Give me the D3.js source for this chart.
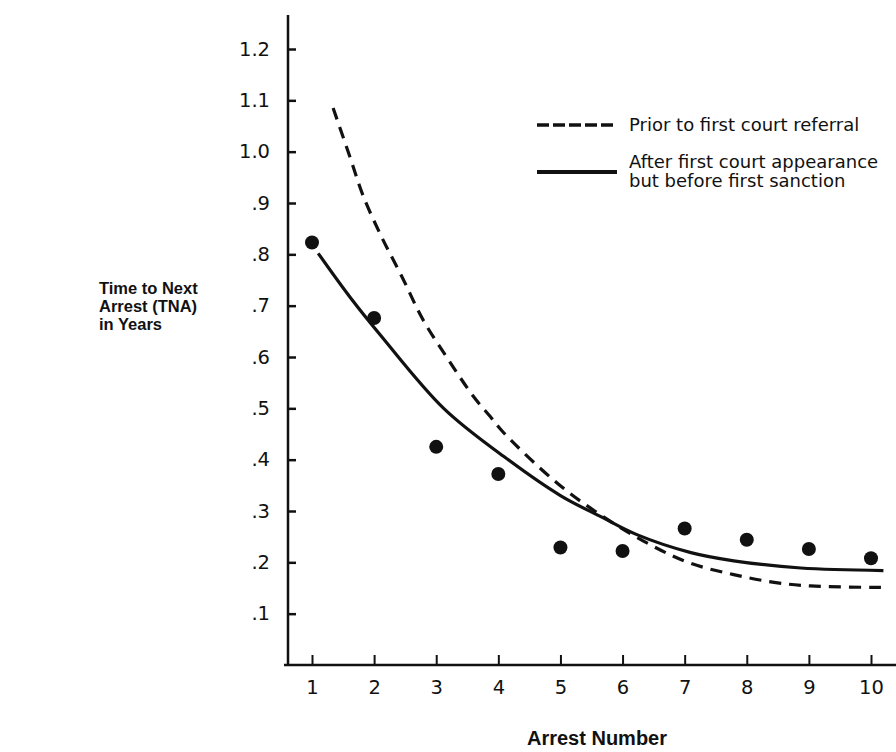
<!DOCTYPE html>
<html>
<head>
<meta charset="utf-8">
<script src="https://cdn.jsdelivr.net/npm/d3@7"></script>
<style>
  body { margin: 0; background: #fff; }
  svg text { fill: #111; }
</style>
</head>
<body>
<div id="chart"></div>
<script>
// arrest number and mean time to next arrest (years)
const arrestNumbers = [1, 2, 3, 4, 5, 6, 7, 8, 9, 10];
const tnaObserved = [0.823, 0.676, 0.425, 0.372, 0.229, 0.222, 0.266, 0.244, 0.226, 0.208];

// fitted curves, sampled along their length
const priorX = [1.34, 1.61, 1.83, 2.12, 2.45, 2.79, 3.2, 3.6, 3.87, 4.09, 4.95, 5.65, 6.45, 7.1, 7.79, 8.44, 9.03, 10.2];
const priorY = [1.085, 0.99, 0.912, 0.834, 0.756, 0.672, 0.594, 0.523, 0.484, 0.452, 0.354, 0.292, 0.234, 0.198, 0.176, 0.161, 0.154, 0.151];
const afterX = [1.1, 1.61, 2.1, 3.12, 4.09, 5.0, 5.65, 6.23, 7.1, 7.79, 8.87, 10.2];
const afterY = [0.802, 0.717, 0.643, 0.50, 0.406, 0.33, 0.289, 0.254, 0.219, 0.203, 0.189, 0.184];

const yTicks = [0.1, 0.2, 0.3, 0.4, 0.5, 0.6, 0.7, 0.8, 0.9, 1.0, 1.1, 1.2];
const legendLabels = [["Prior to first court referral"], ["After first court appearance", "but before first sanction"]];
const yTitle = ["Time to Next", "Arrest (TNA)", "in Years"];
const xTitle = "Arrest Number";

const width = 896, height = 752;
const svg = d3.select("#chart").append("svg")
  .attr("width", width).attr("height", height);

const x = d3.scaleLinear().domain([1, 10]).range([312, 871]);
const y = d3.scaleLinear().domain([0, 1.2]).range([665, 49]);

// Y axis
const yAxis = svg.append("g")
  .attr("transform", "translate(288,0)")
  .call(d3.axisLeft(y).tickValues(yTicks).tickSize(-8).tickSizeOuter(0).tickPadding(18)
    .tickFormat(d => d >= 1 ? d3.format(".1f")(d) : d3.format(".1f")(d).slice(1)));
yAxis.select(".domain").remove();
yAxis.selectAll(".tick line").attr("stroke", "#111").attr("stroke-width", 2.5);
yAxis.selectAll(".tick text").style("font-family", "DejaVu Sans, sans-serif").style("font-size", "19.5px");
svg.append("line").attr("x1", 288).attr("x2", 288).attr("y1", 15).attr("y2", y(0))
  .attr("stroke", "#111").attr("stroke-width", 2.5);

// X axis
const xAxis = svg.append("g")
  .attr("transform", "translate(0," + y(0) + ")")
  .call(d3.axisBottom(x).tickValues(arrestNumbers).tickSize(-10).tickSizeOuter(0).tickPadding(15)
    .tickFormat(d3.format("d")));
xAxis.select(".domain").remove();
xAxis.selectAll(".tick line").attr("stroke", "#111").attr("stroke-width", 2);
xAxis.selectAll(".tick text").style("font-family", "DejaVu Sans, sans-serif").style("font-size", "19.5px");
svg.append("line").attr("x1", 284).attr("x2", 896).attr("y1", y(0)).attr("y2", y(0))
  .attr("stroke", "#111").attr("stroke-width", 2.5);

// curves
const line = d3.line().x(d => x(d[0])).y(d => y(d[1])).curve(d3.curveCatmullRom.alpha(0.5));
svg.append("path")
  .datum(priorX.map((v, i) => [v, priorY[i]]))
  .attr("d", line)
  .attr("fill", "none").attr("stroke", "#111").attr("stroke-width", 3.2)
  .attr("stroke-dasharray", "12,8");
svg.append("path")
  .datum(afterX.map((v, i) => [v, afterY[i]]))
  .attr("d", line)
  .attr("fill", "none").attr("stroke", "#111").attr("stroke-width", 3.2);

// observed points
svg.append("g").selectAll("circle")
  .data(arrestNumbers)
  .enter()
  .append("circle")
  .attr("cx", (d, i) => x(d))
  .attr("cy", (d, i) => y(tnaObserved[i]))
  .attr("r", 7)
  .attr("fill", "#111");

// legend
const legend = svg.append("g").style("font-family", "DejaVu Sans, sans-serif").style("font-size", "18px");
legend.append("line").attr("x1", 537).attr("x2", 617).attr("y1", 125).attr("y2", 125)
  .attr("stroke", "#111").attr("stroke-width", 3.5).attr("stroke-dasharray", "12,4");
legend.append("line").attr("x1", 537).attr("x2", 617).attr("y1", 172).attr("y2", 172)
  .attr("stroke", "#111").attr("stroke-width", 4);
legend.append("text").attr("x", 629).attr("y", 131).text(legendLabels[0][0]);
legend.append("text").attr("x", 629).attr("y", 168).text(legendLabels[1][0]);
legend.append("text").attr("x", 629).attr("y", 187).text(legendLabels[1][1]);

// axis titles
svg.append("text")
  .style("font-family", "Liberation Sans, Arial, sans-serif").style("font-size", "16.5px").style("font-weight", "bold")
  .selectAll("tspan")
  .data(yTitle)
  .enter()
  .append("tspan")
  .attr("x", 99)
  .attr("y", (d, i) => 294 + i * 18)
  .text(d => d);

svg.append("text")
  .attr("x", 597).attr("y", 745)
  .attr("text-anchor", "middle")
  .style("font-family", "Liberation Sans, Arial, sans-serif").style("font-size", "20px").style("font-weight", "bold")
  .text(xTitle);
</script>
</body>
</html>
